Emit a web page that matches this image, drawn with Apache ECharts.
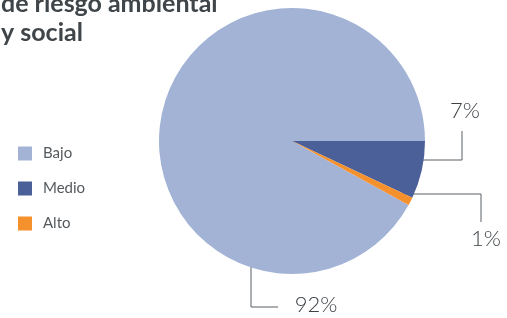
<!DOCTYPE html>
<html>
<head>
<meta charset="utf-8">
<script src="https://cdn.jsdelivr.net/npm/echarts@6/dist/echarts.min.js"></script>
<style>
  html, body { margin: 0; padding: 0; background: #fff; }
  #chart { width: 507px; height: 318px; }
</style>
</head>
<body>
<div id="chart"></div>
<script>
var categories = ['Bajo', 'Medio', 'Alto'];
var percents = [92, 7, 1];
var colors = ['#a2b3d5', '#4b5f98', '#f5912d'];

// where each label sits and how its elbow line runs (pixels)
var labelSpots = [
  { x: 316, y: 305, line: [[251, 227], [251, 307], [278, 307]] },
  { x: 465, y: 111, line: [[383, 160], [462, 160], [462, 131]] },
  { x: 486, y: 239, line: [[402, 194], [481, 194], [481, 222]] }
];

var chart = echarts.init(document.getElementById('chart'));

var pieData = [];
for (var i = 0; i < categories.length; i++) {
  pieData.push({ name: categories[i], value: percents[i], itemStyle: { color: colors[i] } });
}

var option = {
  animation: false,
  title: {
    text: 'de riesgo ambiental\ny social',
    left: -4,
    top: -16,
    textStyle: {
      fontFamily: 'Lato',
      fontWeight: 'bold',
      fontSize: 25,
      lineHeight: 29,
      color: '#3f4548'
    }
  },
  legend: {
    orient: 'vertical',
    left: 13,
    top: 141,
    itemWidth: 14,
    itemHeight: 14,
    itemGap: 20,
    icon: 'rect',
    data: categories,
    textStyle: { fontFamily: 'Lato', fontSize: 15, color: '#555a5e', padding: [0, 0, 0, 6] }
  },
  series: [
    {
      type: 'pie',
      center: [292, 141],
      radius: 133,
      startAngle: 331.2,
      clockwise: true,
      data: pieData,
      label: {
        show: true,
        position: 'outside',
        alignTo: 'none',
        overflow: 'none',
        edgeDistance: 0,
        formatter: function (p) { return p.value + '%'; },
        fontFamily: 'Lato',
        fontWeight: 300,
        fontSize: 22,
        color: '#3c4145'
      },
      labelLine: {
        show: true,
        lineStyle: { color: '#5b6166', width: 1 }
      },
      labelLayout: function (params) {
        var s = labelSpots[params.dataIndex];
        return {
          x: s.x,
          y: s.y,
          align: 'center',
          verticalAlign: 'middle',
          labelLinePoints: s.line
        };
      },
      emphasis: { disabled: true }
    }
  ]
};

chart.setOption(option);
</script>
</body>
</html>
